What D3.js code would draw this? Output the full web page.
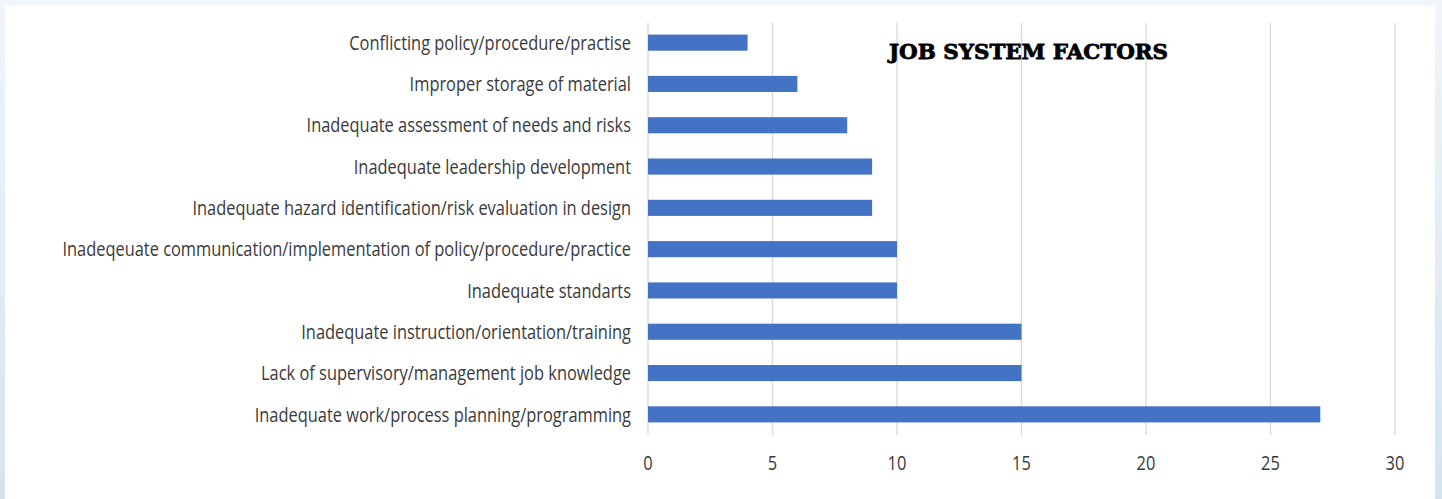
<!DOCTYPE html>
<html>
<head>
<meta charset="utf-8">
<script src="https://cdn.jsdelivr.net/npm/d3@7"></script>
<style>
  html, body { margin: 0; padding: 0; }
  body { width: 1442px; height: 499px; overflow: hidden;
         background: linear-gradient(to bottom, #f0f5f9 0%, #d4e4ef 100%); }
  svg { display: block; }
</style>
</head>
<body>
<svg id="chart" width="1442" height="499"></svg>
<script>
// Categories listed top to bottom
const categories = [
  "Conflicting policy/procedure/practise",
  "Improper storage of material",
  "Inadequate assessment of needs and risks",
  "Inadequate leadership development",
  "Inadequate hazard identification/risk evaluation in design",
  "Inadeqeuate communication/implementation of policy/procedure/practice",
  "Inadequate standarts",
  "Inadequate instruction/orientation/training",
  "Lack of supervisory/management job knowledge ",
  "Inadequate work/process planning/programming"
];
const values = [4, 6, 8, 9, 9, 10, 10, 15, 15, 27];
const xTicks = [0, 5, 10, 15, 20, 25, 30];
const title = "JOB SYSTEM FACTORS";

const svg = d3.select("#chart");

// white card
svg.append("rect")
  .attr("x", 5).attr("y", 5)
  .attr("width", 1430).attr("height", 500)
  .attr("fill", "#ffffff");

const plot = { left: 648, right: 1395, top: 22, bottom: 435 };

const x = d3.scaleLinear().domain([0, 30]).range([plot.left, plot.right]);
const y = d3.scaleBand().domain(categories)
  .range([plot.top, plot.bottom])
  .paddingInner(0.61).paddingOuter(0.305);

const labelFont = "'Open Sans', 'Noto Sans', sans-serif";
const fs = 20;

// vertical gridlines
svg.append("g")
  .selectAll("line")
  .data(xTicks)
  .join("line")
  .attr("x1", d => x(d)).attr("x2", d => x(d))
  .attr("y1", plot.top + 1).attr("y2", plot.bottom)
  .attr("stroke", "#d9d9d9")
  .attr("stroke-width", 1.3);

// bars
svg.append("g")
  .selectAll("rect")
  .data(values)
  .join("rect")
  .attr("x", x(0))
  .attr("y", (d, i) => y(categories[i]))
  .attr("width", d => x(d) - x(0))
  .attr("height", y.bandwidth())
  .attr("fill", "#4472c4");

// category axis
const yAxisG = svg.append("g")
  .attr("transform", `translate(${plot.left},0)`)
  .call(d3.axisLeft(y).tickSize(0).tickPadding(17));
yAxisG.select(".domain").remove();
yAxisG.selectAll("text")
  .attr("font-family", labelFont)
  .attr("font-size", fs)
  .attr("fill", "#3a3a3a");

// condense the labels horizontally so the longest spans the left margin
let maxW = 0;
yAxisG.selectAll("text").each(function () {
  maxW = Math.max(maxW, this.getComputedTextLength());
});
const sx = 569 / maxW;
yAxisG.selectAll("text")
  .attr("x", -17 / sx)
  .attr("dy", "0.36em")
  .attr("transform", `scale(${sx},1)`);

// value axis
const xAxisG = svg.append("g")
  .attr("transform", `translate(0,${plot.bottom})`)
  .call(d3.axisBottom(x).tickValues(xTicks).tickSize(0).tickPadding(21));
xAxisG.select(".domain").remove();
xAxisG.selectAll("text")
  .attr("font-family", labelFont)
  .attr("font-size", fs)
  .attr("fill", "#3a3a3a")
  .attr("transform", `scale(${sx},1)`);
xAxisG.selectAll(".tick").each(function (d) {
  d3.select(this).attr("transform", `translate(${x(d)},0)`);
});

// title
svg.append("text")
  .attr("x", 889).attr("y", 59)
  .attr("font-family", "'DejaVu Serif', serif")
  .attr("font-weight", "bold")
  .attr("font-size", 21)
  .attr("fill", "#000000")
  .attr("stroke", "#000000")
  .attr("stroke-width", 0.8)
  .attr("textLength", 279)
  .attr("lengthAdjust", "spacingAndGlyphs")
  .text(title);
</script>
</body>
</html>
